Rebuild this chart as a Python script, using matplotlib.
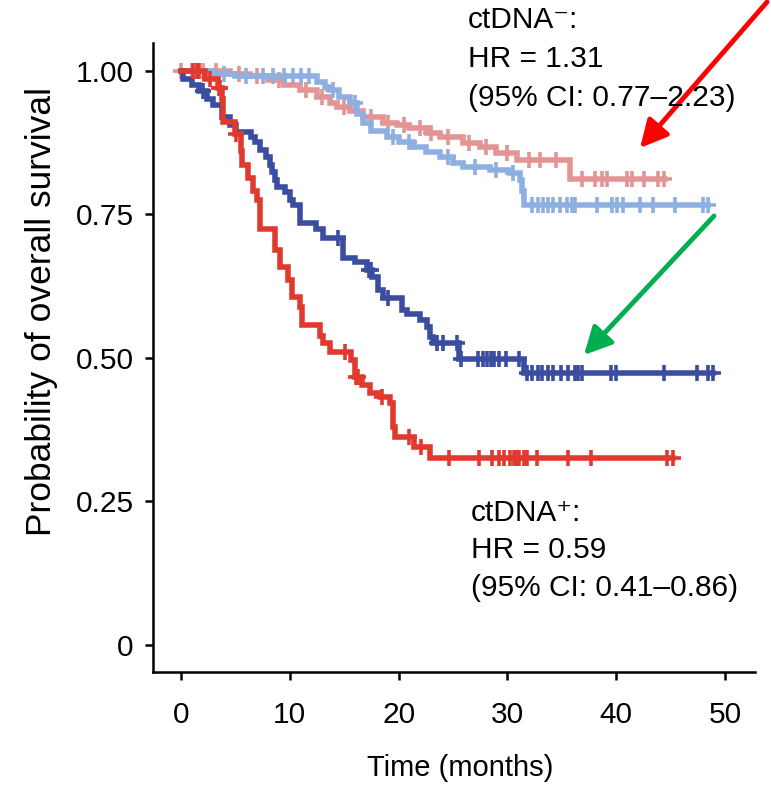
import numpy as np
import matplotlib
matplotlib.use("Agg")
import matplotlib.pyplot as plt

plt.rcParams['font.family'] = ['Liberation Sans', 'DejaVu Sans']

# Kaplan-Meier curves: step times (months) and survival after each step
red_t = [0, 2.2, 3.4, 3.8, 3.9, 5.0, 5.5, 5.6, 6.2, 6.6, 7.0, 7.3, 8.6, 9.1, 9.8, 10.2, 10.9, 11.1,
         12.8, 13.1, 13.7, 15.6, 16.0, 16.6, 17.4, 18.3, 19.2, 19.5, 19.7, 21.4, 22.9]
red_s = [1.0, 0.985, 0.97, 0.95, 0.91, 0.89, 0.86, 0.836, 0.813, 0.79, 0.775, 0.724, 0.687, 0.658,
         0.635, 0.606, 0.588, 0.557, 0.538, 0.525, 0.51, 0.496, 0.466, 0.452, 0.438, 0.432, 0.421,
         0.38, 0.362, 0.345, 0.325]
red_end = 45.2
red_cens = [1.1, 1.5, 1.7, 2.7, 3.5, 3.6, 5.1, 15.1, 16.1, 16.3, 18.5, 21.0, 22.1, 24.6, 27.4, 28.6,
            29.2, 29.7, 30.2, 30.6, 30.9, 31.1, 31.5, 31.8, 32.7, 35.6, 37.7, 44.7, 45.2]

blue_t = [0, 0.2, 1.0, 1.7, 2.4, 2.9, 3.8, 4.5, 5.1, 6.4, 6.8, 7.3, 7.8, 8.2, 8.4, 8.6, 8.8, 9.6,
          10.0, 10.3, 10.9, 12.4, 13.1, 14.9, 16.0, 17.1, 17.6, 18.1, 18.6, 20.3, 20.8, 22.0, 22.6,
          22.9, 23.2, 25.6, 31.5]
blue_s = [1.0, 0.985, 0.975, 0.965, 0.95, 0.94, 0.92, 0.905, 0.893, 0.885, 0.876, 0.862, 0.85,
          0.836, 0.824, 0.81, 0.797, 0.789, 0.775, 0.766, 0.734, 0.725, 0.708, 0.673, 0.666, 0.653,
          0.641, 0.618, 0.604, 0.583, 0.577, 0.565, 0.553, 0.536, 0.525, 0.498, 0.474]
blue_end = 48.9
blue_cens = [2.0, 14.4, 17.3, 17.5, 19.0, 23.5, 24.1, 25.4, 25.7, 27.3, 27.8, 28.1, 28.5, 28.8, 29.2,
             29.9, 31.1, 31.8, 32.3, 32.8, 33.2, 33.7, 34.2, 34.9, 35.6, 36.2, 36.5, 36.9, 39.5,
             40.0, 44.4, 47.4, 48.4, 48.9]

pink_t = [0, 4.5, 6.3, 8.0, 9.5, 10.9, 12.5, 13.7, 14.3, 15.5, 16.7, 18.6, 19.9, 21.0, 22.6, 23.8,
          25.9, 27.5, 29.0, 30.9, 35.8]
pink_s = [1.0, 0.995, 0.99, 0.984, 0.975, 0.966, 0.954, 0.943, 0.937, 0.93, 0.92, 0.909, 0.905,
          0.9, 0.891, 0.885, 0.874, 0.867, 0.857, 0.845, 0.812]
pink_end = 44.5
pink_cens = [0.0, 1.0, 2.0, 3.2, 5.3, 7.0, 9.0, 11.5, 13.0, 15.0, 17.5, 19.0, 20.5, 22.0, 23.0, 24.5,
             26.5, 28.0, 30.0, 32.0, 33.0, 34.5, 36.9, 38.1, 38.7, 39.2, 41.0, 41.5, 42.6, 43.8, 44.4]

lblue_t = [0, 3.0, 5.0, 12.5, 13.2, 13.7, 14.5, 15.5, 16.2, 16.7, 17.5, 18.9, 20.0, 21.3, 22.5,
           23.8, 25.0, 25.9, 28.4, 30.2, 31.2, 31.35, 31.5]
lblue_s = [1.0, 0.995, 0.99, 0.98, 0.972, 0.966, 0.955, 0.944, 0.925, 0.909, 0.895, 0.885, 0.875,
           0.867, 0.858, 0.85, 0.84, 0.832, 0.827, 0.821, 0.81, 0.79, 0.766]
lblue_end = 48.4
lblue_cens = [1.5, 4.0, 6.0, 7.5, 8.5, 9.5, 10.3, 11.0, 11.8, 14.0, 16.0, 19.5, 21.0, 24.5, 27.0,
              29.0, 30.5, 32.3, 32.8, 33.3, 33.7, 34.2, 34.8, 35.5, 35.9, 36.2, 38.2, 39.6, 40.1,
              40.6, 42.2, 43.4, 45.4, 48.0, 48.4]

neg_text = ["ctDNA\u207b:", "HR = 1.31", "(95% CI: 0.77\u20132.23)"]
pos_text = ["ctDNA\u207a:", "HR = 0.59", "(95% CI: 0.41\u20130.86)"]

W, H = 771, 786
fig = plt.figure(figsize=(W / 100, H / 100), dpi=100)
ax = fig.add_axes([153 / W, 1 - 672 / H, (755 - 153) / W, (672 - 43) / H])


def km(ax, t, s, end, cens, color):
    t = np.asarray(t)
    s = np.asarray(s)
    ax.step(np.append(t, end), np.append(s, s[-1]), where='post', color=color, lw=4.0,
            solid_joinstyle='miter')
    c = np.asarray(cens)
    cy = s[np.searchsorted(t, c, side='right') - 1]
    ax.plot(c, cy, ls='none', marker='+', ms=11, mew=2.6, color=color)


km(ax, pink_t, pink_s, pink_end, pink_cens, '#E39494')
km(ax, lblue_t, lblue_s, lblue_end, lblue_cens, '#8DB0E0')
km(ax, blue_t, blue_s, blue_end, blue_cens, '#3B4DA0')
km(ax, red_t, red_s, red_end, red_cens, '#E03A2E')

ax.set_xlim(-2.57, 52.76)
ax.set_ylim(-0.0476, 1.0483)
ax.set_xticks([0, 10, 20, 30, 40, 50])
ax.set_yticks([0, 0.25, 0.5, 0.75, 1.0])
ax.set_yticklabels(['0', '0.25', '0.50', '0.75', '1.00'])
ax.spines['top'].set_visible(False)
ax.spines['right'].set_visible(False)
for sp in ax.spines.values():
    sp.set_linewidth(1.8)
ax.tick_params(axis='both', direction='out', length=6, width=1.8, labelsize=21.5)
ax.tick_params(axis='x', pad=15)
ax.tick_params(axis='y', pad=8)

fig.text(460 / W, 1 - 768 / H, "Time (months)", fontsize=21, ha='center', va='center')
fig.text(42 / W, 1 - 311 / H, "Probability of overall survival", fontsize=25.5,
         rotation=90, ha='center', va='center')

for line, y in zip(neg_text, [28, 67, 106]):
    fig.text(468 / W, 1 - y / H, line, fontsize=21.5, ha='left', va='baseline')
for line, y in zip(pos_text, [521, 558, 596]):
    fig.text(471 / W, 1 - y / H, line, fontsize=21.5, ha='left', va='baseline')

# highlighting arrows
ax.annotate('', xy=(640, H - 148), xytext=(767, H - 2), xycoords='figure pixels',
            textcoords='figure pixels', annotation_clip=False,
            arrowprops=dict(arrowstyle='-|>,head_length=0.55,head_width=0.28', color='#FF0000',
                            lw=3.5, mutation_scale=30, shrinkA=0, shrinkB=0))
ax.annotate('', xy=(584, H - 355), xytext=(714, H - 216), xycoords='figure pixels',
            textcoords='figure pixels', annotation_clip=False,
            arrowprops=dict(arrowstyle='-|>,head_length=0.55,head_width=0.28', color='#00B050',
                            lw=3.5, mutation_scale=30, shrinkA=0, shrinkB=0))

fig.savefig('out.png', dpi=100)
